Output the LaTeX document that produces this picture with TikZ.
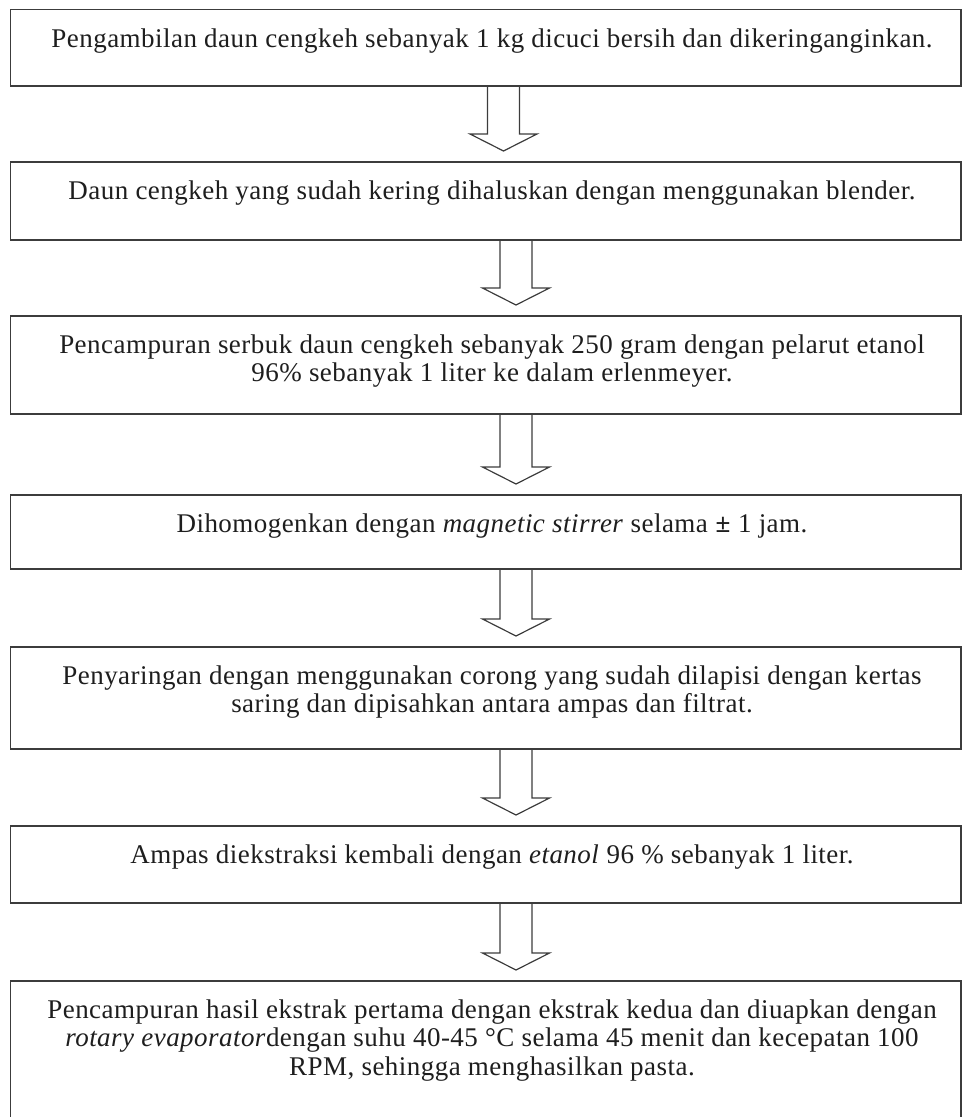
\documentclass[tikz,border=0pt]{standalone}
\usepackage{fontspec}
\setmainfont{Liberation Serif}[LetterSpace=1.7]
\usetikzlibrary{calc}
\definecolor{ink}{HTML}{1E1E1E}
\definecolor{frame}{HTML}{3C3C3C}
\newcommand\hollowdown[3]{%
  \draw[hollowarrow]
    ($(#1.south -| #3)+(-16,0)$) --
    ($(#2.north -| #3)+(-16,28)$) --
    ($(#2.north -| #3)+(-33.5,28)$) --
    ($(#2.north -| #3)+(0,11)$) --
    ($(#2.north -| #3)+(33.5,28)$) --
    ($(#2.north -| #3)+(16,28)$) --
    ($(#1.south -| #3)+(16,0)$);}
\begin{document}
\begin{tikzpicture}[x=1pt,y=1pt,
  stepbox/.style={draw=frame, line width=1.5pt, inner sep=0pt, outer sep=0pt,
    anchor=north west, minimum width=950.5pt},
  steptext/.style={text=ink, inner sep=0pt, align=center, anchor=north,
    font=\fontsize{27}{28.5}\selectfont},
  hollowarrow/.style={draw=frame, line width=1.2pt, line join=miter}]
\useasboundingbox (0,0) rectangle (964,-1117);
\coordinate (axa) at (503.5,0);
\coordinate (axb) at (516,0);
\node[stepbox, minimum height=76.5pt] (b1) at (10.5,-9.5) {};
\node[stepbox, minimum height=78pt] (b2) at (10.5,-162) {};
\node[stepbox, minimum height=98pt] (b3) at (10.5,-316) {};
\node[stepbox, minimum height=74pt] (b4) at (10.5,-495) {};
\node[stepbox, minimum height=102pt] (b5) at (10.5,-647) {};
\node[stepbox, minimum height=77pt] (b6) at (10.5,-826) {};
\node[stepbox, minimum height=160pt] (b7) at (10.5,-981) {};
\node[steptext] (t1) at (492,-27) {\rule{0pt}{20pt}Pengambilan daun cengkeh sebanyak 1 kg dicuci bersih dan dikeringanginkan.};
\node[steptext] (t2) at (492,-179) {\rule{0pt}{20pt}Daun cengkeh yang sudah kering dihaluskan dengan menggunakan blender.};
\node[steptext] (t3) at (492,-333) {\rule{0pt}{20pt}Pencampuran serbuk daun cengkeh sebanyak 250 gram dengan pelarut etanol\\96\% sebanyak 1 liter ke dalam erlenmeyer.};
\node[steptext] (t4) at (492,-512) {\rule{0pt}{20pt}Dihomogenkan dengan \textit{magnetic stirrer} selama \textbf{±} 1 jam.};
\node[steptext] (t5) at (492,-664) {\rule{0pt}{20pt}Penyaringan dengan menggunakan corong yang sudah dilapisi dengan kertas\\saring dan dipisahkan antara ampas dan filtrat.};
\node[steptext] (t6) at (492,-843) {\rule{0pt}{20pt}Ampas diekstraksi kembali dengan \textit{etanol} 96 \% sebanyak 1 liter.};
\node[steptext] (t7) at (492,-998) {\rule{0pt}{20pt}Pencampuran hasil ekstrak pertama dengan ekstrak kedua dan diuapkan dengan\\\textit{rotary evaporator}dengan suhu 40-45 °C selama 45 menit dan kecepatan 100\\RPM, sehingga menghasilkan pasta.};
\hollowdown{b1}{b2}{axa}
\hollowdown{b2}{b3}{axb}
\hollowdown{b3}{b4}{axb}
\hollowdown{b4}{b5}{axb}
\hollowdown{b5}{b6}{axb}
\hollowdown{b6}{b7}{axb}
\end{tikzpicture}
\end{document}
